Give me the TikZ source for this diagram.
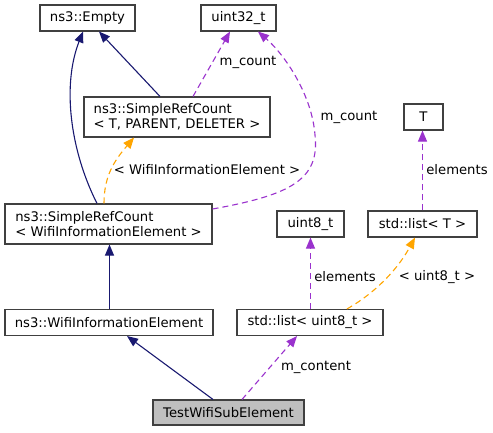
\documentclass[tikz,border=0pt]{standalone}
\usepackage{fontspec}
\setmainfont{DejaVu Sans}
\usetikzlibrary{arrows.meta,calc}
\definecolor{inhcol}{HTML}{191970}
\definecolor{usecol}{HTML}{9A32CD}
\definecolor{tplcol}{HTML}{FFA500}
\definecolor{boxcol}{HTML}{404040}
\definecolor{graycol}{HTML}{BFBFBF}
\begin{document}
\begin{tikzpicture}[x=1pt,y=-1pt,
  every node/.style={font=\fontsize{13.2}{15}\selectfont},
  cls/.style={draw=boxcol,line width=1.1pt,fill=white,inner sep=0pt,align=left},
  lbl/.style={inner sep=0pt},
  tip/.style={-{Triangle[length=11pt,width=9pt]}},
  inh/.style={tip,draw=inhcol,line width=1.1pt},
  use/.style={tip,draw=usecol,line width=1.1pt,dash pattern=on 6pt off 4pt},
  tpl/.style={tip,draw=tplcol,line width=1.1pt,dash pattern=on 6pt off 4pt}]
\useasboundingbox (0,0) rectangle (493,432);
% nodes
\node[cls,minimum width=95pt,minimum height=26pt] (empty) at (87.5,18) {ns3::Empty};
\node[cls,minimum width=75pt,minimum height=26pt] (u32) at (238.5,18) {uint32\_t};
\node[cls,minimum width=186pt,minimum height=40pt] (srcT) at (177,117) {ns3::SimpleRefCount\\< T, PARENT, DELETER >};
\node[cls,minimum width=39pt,minimum height=26pt] (T) at (423.5,117) {T};
\node[cls,minimum width=207pt,minimum height=40pt] (srcW) at (108.5,224) {ns3::SimpleRefCount\\< WifiInformationElement >};
\node[cls,minimum width=67pt,minimum height=26pt] (u8) at (310.5,224) {uint8\_t};
\node[cls,minimum width=109pt,minimum height=26pt] (listT) at (422.5,224) {std::list< T >};
\node[cls,minimum width=208pt,minimum height=26pt] (wie) at (109,322.5) {ns3::WifiInformationElement};
\node[cls,minimum width=146pt,minimum height=26pt] (listu8) at (310,322.5) {std::list< uint8\_t >};
\node[cls,fill=graycol,minimum width=151pt,minimum height=25pt] (test) at (228.5,412.5) {TestWifiSubElement};
% labels
\node[lbl] (l1) at (248,62) {m\_count};
\node[lbl] (l2) at (349,117) {m\_count};
\node[lbl] (l3) at (207,170) {< WifiInformationElement >};
\node[lbl] (l4) at (457,170) {elements};
\node[lbl] (l5) at (345,277) {elements};
\node[lbl] (l6) at (437,277) {< uint8\_t >};
\node[lbl] (l7) at (316,367) {m\_content};
% edges
\draw[inh] ($(srcW.north)+(-11.5,0)$) .. controls (70,150) and (62,85) .. ($(empty.south)+(-4.5,0)$);
\draw[inh] ($(srcT.north)+(-17,0)$) -- ($(empty.south)+(11.5,0)$);
\draw[use] ($(srcT.north)+(16,0)$) -- ($(u32.south)+(-8.5,0)$);
\draw[use] ($(srcW.east)+(0,-15)$) .. controls (290,195) and (320,180) .. (315,135) .. controls (312,95) and (285,55) .. ($(u32.south)+(19.5,0)$);
\draw[tpl] ($(srcW.north)+(-4.5,0)$) .. controls (104,175) and (115,160) .. ($(srcT.south)+(-43,0)$);
\draw[inh] ($(wie.north)+(0.5,0)$) -- ($(wie.north |- srcW.south)+(0.5,0)$);
\draw[inh] ($(test.north)+(-15.5,0)$) -- ($(wie.south)+(18,0)$);
\draw[use] ($(test.north)+(13.5,0)$) -- ($(listu8.south)+(-13,0)$);
\draw[use] (listu8.north -| u8.south) -- (u8.south);
\draw[tpl] ($(listu8.north)+(37,0)$) .. controls (380,290) and (400,265) .. ($(listT.south)+(-7.5,0)$);
\draw[use] (listT.north) -- (listT.north |- T.south);
\end{tikzpicture}
\end{document}
